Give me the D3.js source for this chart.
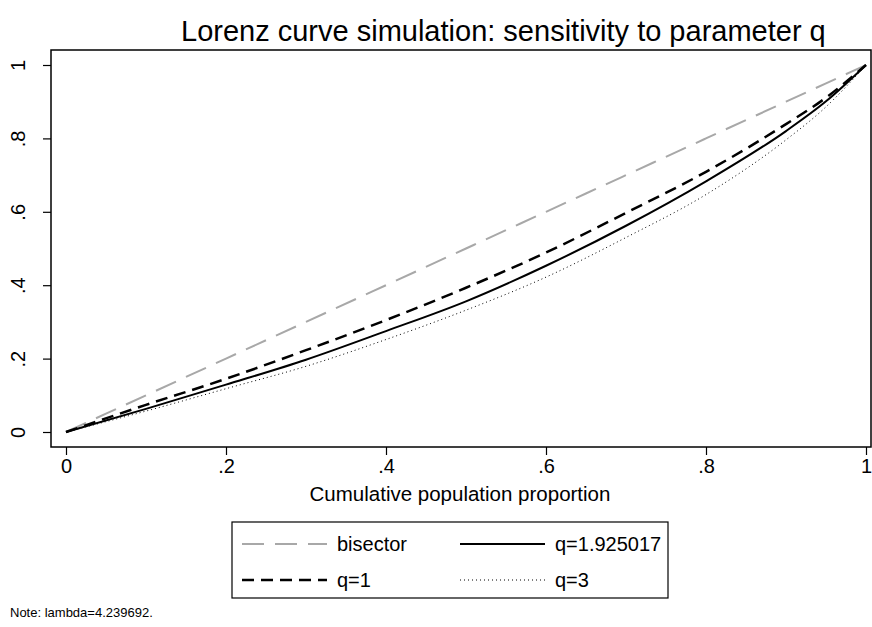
<!DOCTYPE html>
<html>
<head>
<meta charset="utf-8">
<script src="https://cdn.jsdelivr.net/npm/d3@7"></script>
<style>
  body { margin: 0; background: #fff; }
  text { font-family: "Liberation Sans", Arial, sans-serif; fill: #000; }
</style>
</head>
<body>
<div id="chart"></div>
<script>
// values
const pop = [0, 0.1, 0.2, 0.3, 0.4, 0.5, 0.6, 0.7, 0.8, 0.9, 0.95, 1];
const bisector = [0, 0.1, 0.2, 0.3, 0.4, 0.5, 0.6, 0.7, 0.8, 0.9, 0.95, 1];
const q1 = [0, 0.074, 0.145, 0.223, 0.305, 0.393, 0.489, 0.597, 0.709, 0.839, 0.911, 1];
const qMid = [0, 0.063, 0.129, 0.197, 0.275, 0.356, 0.453, 0.562, 0.683, 0.820, 0.901, 1];
const q3 = [0, 0.057, 0.118, 0.179, 0.252, 0.332, 0.422, 0.530, 0.647, 0.796, 0.886, 1];
const xTicks = [0, 0.2, 0.4, 0.6, 0.8, 1];
const yTicks = [0, 0.2, 0.4, 0.6, 0.8, 1];
const tickLabel = v => v === 0 ? '0' : v === 1 ? '1' : String(v).replace(/^0/, '');

const width = 872, height = 627;
const frame = {left: 51, right: 871, top: 50, bottom: 447};
const font = '"Liberation Sans", Arial, sans-serif';

const x = d3.scaleLinear().domain([0, 1]).range([66, 866]);
const y = d3.scaleLinear().domain([0, 1]).range([432, 65]);

const series = [
  {name: 'bisector', values: bisector, stroke: '#a8a8a8', width: 2, dash: '22,11'},
  {name: 'q=1.925017', values: qMid, stroke: '#000', width: 2, dash: null},
  {name: 'q=1', values: q1, stroke: '#000', width: 2.5, dash: '12,7'},
  {name: 'q=3', values: q3, stroke: '#000', width: 1, dash: '1,3'}
];

const svg = d3.select('#chart').append('svg')
  .attr('width', width)
  .attr('height', height);

svg.append('text')
  .attr('x', 181)
  .attr('y', 41)
  .attr('font-size', 29)
  .text('Lorenz curve simulation: sensitivity to parameter q');

// plot region border
svg.append('rect')
  .attr('x', frame.left)
  .attr('y', frame.top)
  .attr('width', frame.right - frame.left)
  .attr('height', frame.bottom - frame.top)
  .attr('fill', 'none')
  .attr('stroke', '#000')
  .attr('stroke-width', 1.5);

// axes
const xAxis = svg.append('g')
  .attr('transform', `translate(0,${frame.bottom})`)
  .call(d3.axisBottom(x).tickValues(xTicks).tickFormat(tickLabel).tickSize(8).tickPadding(4));
xAxis.select('.domain').remove();
xAxis.selectAll('line').attr('stroke-width', 1.2);
xAxis.selectAll('text').attr('font-size', 20).attr('font-family', font);

const yAxis = svg.append('g')
  .attr('transform', `translate(${frame.left},0)`)
  .call(d3.axisLeft(y).tickValues(yTicks).tickFormat(tickLabel).tickSize(8).tickPadding(4));
yAxis.select('.domain').remove();
yAxis.selectAll('line').attr('stroke-width', 1.2);
yAxis.selectAll('text')
  .attr('font-size', 20)
  .attr('font-family', font)
  .attr('text-anchor', 'middle')
  .attr('dy', null)
  .attr('x', null)
  .attr('transform', 'translate(-33,0) rotate(-90)')
  .attr('y', 7);

svg.append('text')
  .attr('x', 460)
  .attr('y', 501)
  .attr('text-anchor', 'middle')
  .attr('font-size', 20.5)
  .text('Cumulative population proportion');

// curves
const line = d3.line()
  .x((d, i) => x(pop[i]))
  .y(d => y(d))
  .curve(d3.curveMonotoneX);

svg.append('g')
  .selectAll('path')
  .data(series)
  .join('path')
  .attr('d', d => line(d.values))
  .attr('fill', 'none')
  .attr('stroke', d => d.stroke)
  .attr('stroke-width', d => d.width)
  .attr('stroke-dasharray', d => d.dash);

// legend
const legend = svg.append('g');
legend.append('rect')
  .attr('x', 232)
  .attr('y', 522)
  .attr('width', 436)
  .attr('height', 76)
  .attr('fill', 'none')
  .attr('stroke', '#000')
  .attr('stroke-width', 1.2);

const item = legend.selectAll('g.item')
  .data(series)
  .join('g')
  .attr('class', 'item')
  .attr('transform', (d, i) => `translate(${i % 2 === 0 ? 242 : 460},${i < 2 ? 544 : 580})`);

item.append('line')
  .attr('x1', 0)
  .attr('x2', 85)
  .attr('stroke', d => d.stroke)
  .attr('stroke-width', d => d.width)
  .attr('stroke-dasharray', d => d.dash);

item.append('text')
  .attr('x', 95)
  .attr('y', 7)
  .attr('font-size', 20)
  .text(d => d.name);

svg.append('text')
  .attr('x', 10)
  .attr('y', 617)
  .attr('font-size', 13)
  .text('Note: lambda=4.239692.');
</script>
</body>
</html>
